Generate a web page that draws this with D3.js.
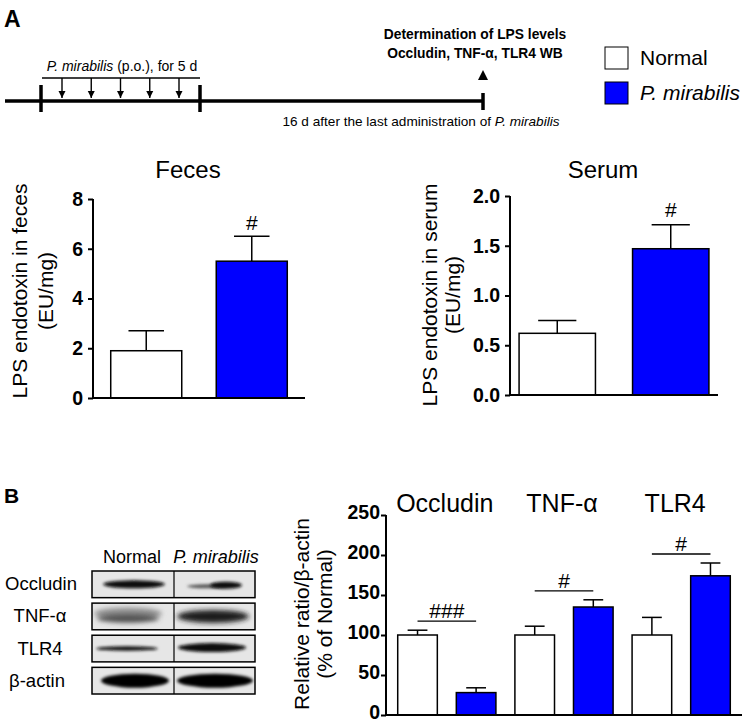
<!DOCTYPE html>
<html>
<head>
<meta charset="utf-8">
<script src="https://cdn.jsdelivr.net/npm/d3@7/dist/d3.min.js"></script>
<style>
  body { margin: 0; background: #fff; }
  svg text { font-family: "Liberation Sans", Arial, sans-serif; fill: #000; }
</style>
</head>
<body>
<div id="fig"></div>
<script>

/********** data *******************************/
var groups = ["Normal", "P. mirabilis"];
var groupColors = ["#ffffff", "#0000ff"];

// A: LPS endotoxin
var fecesMean = [1.9, 5.5];
var fecesSem = [0.8, 1.0];
var fecesSig = ["", "#"];
var fecesTicks = [0, 2, 4, 6, 8];

var serumMean = [0.62, 1.47];
var serumSem = [0.13, 0.24];
var serumSig = ["", "#"];
var serumTicks = [0, 0.5, 1.0, 1.5, 2.0];

// B: western blot quantification
var wbTargets = ["Occludin", "TNF-α", "TLR4"];
var wbNormalMean = [100, 100, 100];
var wbNormalSem = [6, 11, 22];
var wbPmMean = [28, 135, 174];
var wbPmSem = [6, 9, 16];
var wbSig = ["###", "#", "#"];
var wbTicks = [0, 50, 100, 150, 200, 250];
var blotRows = ["Occludin", "TNF-α", "TLR4", "β-actin"];

// timeline
var doseDays = [1, 2, 3, 4, 5];


var svg = d3.select("#fig")
	.append("svg")
	.attr("width", 750)
	.attr("height", 724);

var defs = svg.append("defs");
defs.append("filter").attr("id", "blur2")
	.attr("x", "-30%").attr("y", "-100%").attr("width", "160%").attr("height", "300%")
	.append("feGaussianBlur").attr("stdDeviation", 1.6);
defs.append("filter").attr("id", "blur3")
	.attr("x", "-30%").attr("y", "-100%").attr("width", "160%").attr("height", "300%")
	.append("feGaussianBlur").attr("stdDeviation", 2.6);
defs.append("marker")
	.attr("id", "arrowhead")
	.attr("viewBox", "0 0 10 10")
	.attr("refX", 10).attr("refY", 5)
	.attr("markerWidth", 7).attr("markerHeight", 8)
	.attr("markerUnits", "userSpaceOnUse")
	.attr("orient", "auto")
	.append("path").attr("d", "M0,0 L10,5 L0,10 Z").attr("fill", "#000");


/*******************************************************************************************
										Panel A timeline + legend
*******************************************************************************************/
function draw_timeline(){
	var g = svg.append("g");

	g.append("text").attr("x", 4).attr("y", 27)
		.style("font-size", "23px").style("font-weight", "bold").text("A");

	// main bar
	g.append("line").attr("x1", 5).attr("x2", 483).attr("y1", 101).attr("y2", 101)
		.attr("stroke", "#000").attr("stroke-width", 3.5);
	[41, 200].forEach(function (x) {
		g.append("line").attr("x1", x).attr("x2", x).attr("y1", 85).attr("y2", 112)
			.attr("stroke", "#000").attr("stroke-width", 3.5);
	});
	g.append("line").attr("x1", 483).attr("x2", 483).attr("y1", 93).attr("y2", 110)
		.attr("stroke", "#000").attr("stroke-width", 3.5);
	g.append("path").attr("d", "M478,80 L488,80 L483,70 Z").attr("fill", "#000");

	// dosing bracket and arrows
	g.append("line").attr("x1", 42).attr("x2", 200).attr("y1", 78).attr("y2", 78)
		.attr("stroke", "#000").attr("stroke-width", 1.3);
	var dx = d3.scaleLinear().domain([1, 5]).range([62, 179]);
	g.selectAll(".dose").data(doseDays).enter().append("line")
		.attr("class", "dose")
		.attr("x1", function (d) { return dx(d); })
		.attr("x2", function (d) { return dx(d); })
		.attr("y1", 78).attr("y2", 98)
		.attr("stroke", "#000").attr("stroke-width", 1.4)
		.attr("marker-end", "url(#arrowhead)");

	var t1 = g.append("text").attr("x", 122).attr("y", 71).attr("text-anchor", "middle")
		.style("font-size", "14px");
	t1.append("tspan").style("font-style", "italic").text("P. mirabilis");
	t1.append("tspan").text(" (p.o.), for 5 d");

	g.append("text").attr("x", 475).attr("y", 39).attr("text-anchor", "middle")
		.style("font-size", "13.8px").style("font-weight", "bold")
		.text("Determination of LPS levels");
	g.append("text").attr("x", 475).attr("y", 58).attr("text-anchor", "middle")
		.style("font-size", "13.8px").style("font-weight", "bold")
		.text("Occludin, TNF-α, TLR4 WB");

	var t2 = g.append("text").attr("x", 421).attr("y", 126).attr("text-anchor", "middle")
		.style("font-size", "13.6px");
	t2.append("tspan").text("16 d after the last administration of ");
	t2.append("tspan").style("font-style", "italic").text("P. mirabilis");

	// legend
	var leg = g.selectAll(".leg").data(groups).enter().append("g")
		.attr("class", "leg")
		.attr("transform", function (d, i) { return "translate(605," + (47 + i * 35) + ")"; });
	leg.append("rect").attr("width", 23).attr("height", 22)
		.attr("fill", function (d, i) { return groupColors[i]; })
		.attr("stroke", "#000").attr("stroke-width", 1);
	leg.append("text").attr("x", 35).attr("y", 18)
		.style("font-size", "21px")
		.style("font-style", function (d, i) { return i == 1 ? "italic" : "normal"; })
		.text(function (d) { return d; });
}


/*******************************************************************************************
										Bar panel (shared)
*******************************************************************************************/
function draw_bars(cfg){
	var g = svg.append("g");

	var y = d3.scaleLinear().domain(cfg.yDomain).range([cfg.y0, cfg.y1]);
	var x = d3.scaleBand()
		.domain(cfg.keys)
		.range([cfg.x0, cfg.x1])
		.paddingInner(cfg.padIn)
		.paddingOuter(cfg.padOut);

	// bars
	var bars = g.selectAll(".bar").data(cfg.keys).enter().append("g");
	bars.append("line")
		.attr("x1", function (d) { return x(d) + x.bandwidth() / 2; })
		.attr("x2", function (d) { return x(d) + x.bandwidth() / 2; })
		.attr("y1", function (d, i) { return y(cfg.mean[i]); })
		.attr("y2", function (d, i) { return y(cfg.mean[i] + cfg.sem[i]); })
		.attr("stroke", "#000").attr("stroke-width", 1.5);
	bars.append("line")
		.attr("x1", function (d) { return x(d) + x.bandwidth() / 4; })
		.attr("x2", function (d) { return x(d) + x.bandwidth() * 3 / 4; })
		.attr("y1", function (d, i) { return y(cfg.mean[i] + cfg.sem[i]); })
		.attr("y2", function (d, i) { return y(cfg.mean[i] + cfg.sem[i]); })
		.attr("stroke", "#000").attr("stroke-width", 1.5);
	bars.append("rect")
		.attr("x", function (d) { return x(d); })
		.attr("width", x.bandwidth())
		.attr("y", function (d, i) { return y(cfg.mean[i]); })
		.attr("height", function (d, i) { return y(0) - y(cfg.mean[i]); })
		.attr("fill", function (d, i) { return cfg.colors[i]; })
		.attr("stroke", "#000").attr("stroke-width", 1.5);

	// axes
	var ax = g.append("g")
		.attr("transform", "translate(" + cfg.x0 + ",0)")
		.call(d3.axisLeft(y).tickValues(cfg.ticks).tickFormat(cfg.fmt)
			.tickSize(5).tickSizeOuter(0).tickPadding(cfg.tickPad));
	ax.selectAll("path, line").attr("stroke", "#000").attr("stroke-width", 2);
	ax.select(".domain").attr("d", "M0," + y(cfg.yDomain[1]) + "V" + y(0));
	ax.selectAll("text").style("font-size", "19.5px").style("font-weight", "bold")
		.style("font-family", "'Liberation Sans', Arial, sans-serif")
		.attr("dy", cfg.tickDy || "0.32em");

	g.append("line").attr("x1", cfg.x0 - 1).attr("x2", cfg.x1)
		.attr("y1", y(0)).attr("y2", y(0))
		.attr("stroke", "#000").attr("stroke-width", 2);

	// y label (two lines)
	var yl = g.append("text")
		.attr("transform", "translate(0," + cfg.labelY + ") rotate(-90)")
		.attr("text-anchor", "middle")
		.style("font-size", "21px");
	cfg.label.forEach(function (s, i) {
		yl.append("tspan").attr("x", 0).attr("y", cfg.labelX[i]).text(s);
	});

	return {x: x, y: y, g: g};
}


function draw_lps(){
	var feces = draw_bars({
		keys: groups, mean: fecesMean, sem: fecesSem, colors: groupColors,
		yDomain: [0, 8], y0: 398, y1: 199, x0: 93, x1: 305,
		padIn: 0.327, padOut: 0.168, ticks: fecesTicks, fmt: d3.format("d"), tickPad: 5,
		label: ["LPS endotoxin in feces", "(EU/mg)"], labelX: [27, 53], labelY: 291
	});
	feces.g.append("text").attr("x", 188).attr("y", 178).attr("text-anchor", "middle")
		.style("font-size", "24px").text("Feces");
	feces.g.selectAll(".sig").data(groups).enter().append("text")
		.attr("x", function (d) { return feces.x(d) + feces.x.bandwidth() / 2; })
		.attr("y", function (d, i) { return feces.y(fecesMean[i] + fecesSem[i]) - 6; })
		.attr("text-anchor", "middle").style("font-size", "21px")
		.text(function (d, i) { return fecesSig[i]; });

	var serum = draw_bars({
		keys: groups, mean: serumMean, sem: serumSem, colors: groupColors,
		yDomain: [0, 2], y0: 395, y1: 196, x0: 510, x1: 718,
		padIn: 0.327, padOut: 0.08, ticks: serumTicks, fmt: d3.format(".1f"), tickPad: 5,
		label: ["LPS endotoxin in serum", "(EU/mg)"], labelX: [437, 460], labelY: 295
	});
	serum.g.append("text").attr("x", 603).attr("y", 178).attr("text-anchor", "middle")
		.style("font-size", "24px").text("Serum");
	serum.g.selectAll(".sig").data(groups).enter().append("text")
		.attr("x", function (d) { return serum.x(d) + serum.x.bandwidth() / 2; })
		.attr("y", function (d, i) { return serum.y(serumMean[i] + serumSem[i]) - 8; })
		.attr("text-anchor", "middle").style("font-size", "21px")
		.text(function (d, i) { return serumSig[i]; });
}


/*******************************************************************************************
										Panel B
*******************************************************************************************/
function draw_wb_quant(){
	var keys = [], mean = [], sem = [], colors = [];
	wbTargets.forEach(function (t, i) {
		keys.push(t + "|N"); mean.push(wbNormalMean[i]); sem.push(wbNormalSem[i]); colors.push(groupColors[0]);
		keys.push(t + "|P"); mean.push(wbPmMean[i]); sem.push(wbPmSem[i]); colors.push(groupColors[1]);
	});

	var p = draw_bars({
		keys: keys, mean: mean, sem: sem, colors: colors,
		yDomain: [0, 250], y0: 715, y1: 515, x0: 386, x1: 742,
		padIn: 0.324, padOut: 0.2, ticks: wbTicks, fmt: d3.format("d"), tickPad: 1,
		tickDy: "0.2em",
		label: ["Relative ratio/β-actin", "(% of Normal)"], labelX: [309, 332], labelY: 614
	});

	wbTargets.forEach(function (t, i) {
		var xa = p.x(t + "|N") + p.x.bandwidth() / 2;
		var xb = p.x(t + "|P") + p.x.bandwidth() / 2;
		var top = Math.max(wbNormalMean[i] + wbNormalSem[i], wbPmMean[i] + wbPmSem[i]);
		var ly = p.y(top) - 9;
		p.g.append("line").attr("x1", xa).attr("x2", xb).attr("y1", ly).attr("y2", ly)
			.attr("stroke", "#000").attr("stroke-width", 1.3);
		p.g.append("text").attr("x", (xa + xb) / 2).attr("y", ly - 3)
			.attr("text-anchor", "middle").style("font-size", "21px").text(wbSig[i]);
		p.g.append("text").attr("x", (xa + xb) / 2 - (i == 2 ? 6 : 2)).attr("y", 512)
			.attr("text-anchor", "middle").style("font-size", "25px").text(t);
	});
}


function draw_blot(){
	var g = svg.append("g");
	g.append("text").attr("x", 4).attr("y", 503)
		.style("font-size", "21px").style("font-weight", "bold").text("B");

	g.append("text").attr("x", 132).attr("y", 563).attr("text-anchor", "middle")
		.style("font-size", "18px").text("Normal");
	g.append("text").attr("x", 216).attr("y", 563).attr("text-anchor", "middle")
		.style("font-size", "18px").style("font-style", "italic").text("P. mirabilis");

	var rowY = d3.scaleBand().domain(blotRows).range([571, 694]).paddingInner(0.17).paddingOuter(0);

	var labelX = [41, 40, 40, 37];
	blotRows.forEach(function (r, i) {
		g.append("text").attr("x", labelX[i]).attr("y", rowY(r) + rowY.bandwidth() / 2 + 6)
			.attr("text-anchor", "middle").style("font-size", "18.5px").text(r);
		g.append("clipPath").attr("id", "clip" + i).append("rect")
			.attr("x", 92).attr("y", rowY(r)).attr("width", 163).attr("height", rowY.bandwidth());
		g.append("rect").attr("x", 92).attr("y", rowY(r)).attr("width", 163).attr("height", rowY.bandwidth())
			.attr("fill", "#e6e6e6");
	});

	// bands: [row, cx, dy, rx, ry, fill, filter]
	var bands = [
		[0, 134, 0, 31, 4, "#0a0a0a", "blur2"],
		[0, 207, 2, 20, 2, "#555", "blur2"],
		[0, 226, 1, 16, 3.5, "#111", "blur2"],
		[1, 128, -3, 34, 6, "#909090", "blur3"],
		[1, 128, 2, 31, 4, "#505050", "blur3"],
		[1, 213, 0, 36, 6.5, "#1a1a1a", "blur3"],
		[2, 127, 0, 31, 2.2, "#111", "blur2"],
		[2, 212, -1, 34, 4.5, "#0a0a0a", "blur2"],
		[3, 135, 0, 34, 7, "#000", "blur2"],
		[3, 215, 0, 38, 7, "#000", "blur2"]
	];
	bands.forEach(function (b) {
		var r = blotRows[b[0]];
		g.append("g").attr("clip-path", "url(#clip" + b[0] + ")")
			.append("ellipse")
			.attr("cx", b[1]).attr("cy", rowY(r) + rowY.bandwidth() / 2 + b[2])
			.attr("rx", b[3]).attr("ry", b[4])
			.attr("fill", b[5]).attr("filter", "url(#" + b[6] + ")");
	});

	blotRows.forEach(function (r) {
		g.append("rect").attr("x", 92).attr("y", rowY(r)).attr("width", 163).attr("height", rowY.bandwidth())
			.attr("fill", "none").attr("stroke", "#000").attr("stroke-width", 1.5);
		g.append("line").attr("x1", 174).attr("x2", 174).attr("y1", rowY(r)).attr("y2", rowY(r) + rowY.bandwidth())
			.attr("stroke", "#000").attr("stroke-width", 1.2);
	});
}


draw_timeline();
draw_lps();
draw_blot();
draw_wb_quant();

</script>
</body>
</html>
